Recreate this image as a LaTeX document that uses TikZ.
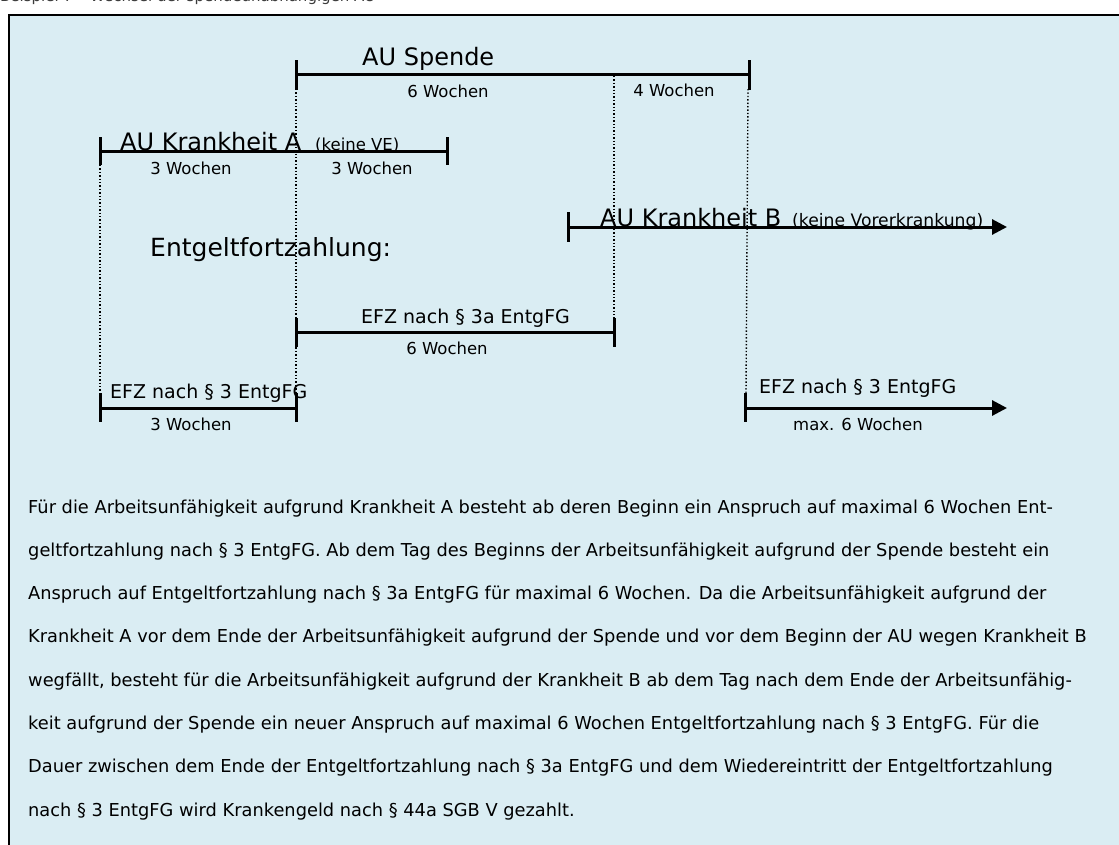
\documentclass[tikz,border=0pt]{standalone}
\usepackage{fontspec}
\setmainfont{DejaVu Sans}
\usetikzlibrary{arrows.meta}
\definecolor{bgblue}{RGB}{218,237,243}
\definecolor{headgray}{RGB}{60,60,60}
\begin{document}
\begin{tikzpicture}[x=1pt,y=-1pt,
  bar/.style={line width=3pt},
  tickmark/.style={line width=3pt},
  guide/.style={line width=1.4pt, dash pattern=on 1.4pt off 2pt},
  big/.style={font=\fontsize{24}{28}\selectfont, inner sep=0, anchor=base west},
  note/.style={font=\fontsize{16.5}{19}\selectfont, inner sep=0, anchor=base west},
  wk/.style={font=\fontsize{16.5}{20}\selectfont, inner sep=0, anchor=base},
  efz/.style={font=\fontsize{19}{22}\selectfont, inner sep=0, anchor=base west},
  para/.style={font=\fontsize{17.8}{20}\selectfont, inner sep=0, anchor=base west},
  arr/.style={-{Triangle[length=15pt,width=15pt]}}
]
\useasboundingbox (0,0) rectangle (1119,844);
\fill[white] (0,0) rectangle (1119,844);
\node[font=\fontsize{15}{18}\selectfont, text=headgray, inner sep=0, anchor=base west] (title) at (0,1.5) {Beispiel 7 – Wechsel der spendeunabhängigen AU};
\filldraw[fill=bgblue, draw=black, line width=2.5pt] (9,15) rectangle (1135,860);

% guide lines (dotted)
\coordinate (g1a) at (100,165); \coordinate (g1b) at (100,393);
\coordinate (g2a) at (296,89);  \coordinate (g2b) at (296,393);
\coordinate (g3a) at (614,76);  \coordinate (g3b) at (614,318);
\coordinate (g4a) at (748,89);  \coordinate (g4b) at (746,393);
\draw[guide] (g1a) -- (g1b);
\draw[guide] (g2a) -- (g2b);
\draw[guide] (g3a) -- (g3b);
\draw[guide] (g4a) -- (g4b);

% AU Spende
\coordinate (sp0) at (296,74); \coordinate (sp1) at (749,74);
\draw[bar] (sp0) -- (sp1);
\draw[tickmark] (296,60) -- (296,90);
\draw[tickmark] (749,60) -- (749,90);
\node[big] (auspende) at (362,65) {AU Spende};
\node[wk] (sp6) at (448,97) {6 Wochen};
\node[wk] (sp4) at (674,96) {4 Wochen};

% AU Krankheit A
\coordinate (ka0) at (100,151); \coordinate (ka1) at (447,151);
\draw[bar] (ka0) -- (ka1);
\draw[tickmark] (100,137) -- (100,165);
\draw[tickmark] (447,137) -- (447,165);
\node[big] (aukA) at (120,150) {AU Krankheit A};
\node[note] (keineVE) at (315,150) {(keine VE)};
\node[wk] (ka3a) at (191,174) {3 Wochen};
\node[wk] (ka3b) at (372,174) {3 Wochen};

% AU Krankheit B
\coordinate (kb0) at (568,227); \coordinate (kb1) at (1007,227);
\draw[bar, arr] (kb0) -- (kb1);
\draw[tickmark] (568,212) -- (568,242);
\node[big] (aukB) at (600,226) {AU Krankheit B};
\node[note, font=\fontsize{17.2}{20}\selectfont] (keineVor) at (792,226) {(keine Vorerkrankung)};

% Entgeltfortzahlung
\node[font=\fontsize{25}{30}\selectfont, inner sep=0, anchor=base west] (efzhead) at (150,256) {Entgeltfortzahlung:};

% EFZ nach 3a
\coordinate (e3a0) at (296,332); \coordinate (e3a1) at (614,332);
\draw[bar] (e3a0) -- (e3a1);
\draw[tickmark] (296,318) -- (296,347);
\draw[tickmark] (614,318) -- (614,347);
\node[efz] (efz3a) at (361,323) {EFZ nach § 3a EntgFG};
\node[wk] (e3a6) at (447,354) {6 Wochen};

% EFZ nach 3 (left)
\coordinate (e3l0) at (100,408); \coordinate (e3l1) at (296,408);
\draw[bar] (e3l0) -- (e3l1);
\draw[tickmark] (100,393) -- (100,422);
\draw[tickmark] (296,393) -- (296,422);
\node[efz] (efz3l) at (110,398) {EFZ nach § 3 EntgFG};
\node[wk] (e3l3) at (191,430) {3 Wochen};

% EFZ nach 3 (right)
\coordinate (e3r0) at (745,408); \coordinate (e3r1) at (1007,408);
\draw[bar, arr] (e3r0) -- (e3r1);
\draw[tickmark] (745,393) -- (745,422);
\node[efz] (efz3r) at (759,393) {EFZ nach § 3 EntgFG};
\node[wk, anchor=base west] (e3rmax) at (793,430) {max. 6 Wochen};

% paragraph
\node[para] (p1) at (28,513.0) {Für die Arbeitsunfähigkeit aufgrund Krankheit A besteht ab deren Beginn ein Anspruch auf maximal 6 Wochen Ent-};
\node[para] (p2) at (28,556.3) {geltfortzahlung nach § 3 EntgFG. Ab dem Tag des Beginns der Arbeitsunfähigkeit aufgrund der Spende besteht ein};
\node[para] (p3) at (28,599.6) {Anspruch auf Entgeltfortzahlung nach § 3a EntgFG für maximal 6 Wochen. Da die Arbeitsunfähigkeit aufgrund der};
\node[para] (p4) at (28,642.9) {Krankheit A vor dem Ende der Arbeitsunfähigkeit aufgrund der Spende und vor dem Beginn der AU wegen Krankheit B};
\node[para] (p5) at (28,686.2) {wegfällt, besteht für die Arbeitsunfähigkeit aufgrund der Krankheit B ab dem Tag nach dem Ende der Arbeitsunfähig-};
\node[para] (p6) at (28,729.5) {keit aufgrund der Spende ein neuer Anspruch auf maximal 6 Wochen Entgeltfortzahlung nach § 3 EntgFG. Für die};
\node[para] (p7) at (28,772.8) {Dauer zwischen dem Ende der Entgeltfortzahlung nach § 3a EntgFG und dem Wiedereintritt der Entgeltfortzahlung};
\node[para] (p8) at (28,816.1) {nach § 3 EntgFG wird Krankengeld nach § 44a SGB V gezahlt.};
\end{tikzpicture}
\end{document}
